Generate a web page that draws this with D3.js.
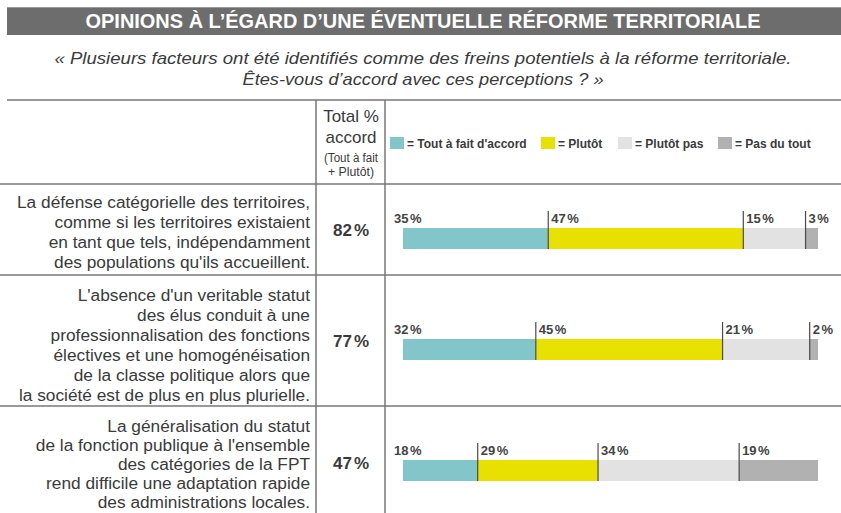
<!DOCTYPE html>
<html>
<head>
<meta charset="utf-8">
<script src="https://cdn.jsdelivr.net/npm/d3@7"></script>
<style>
  html, body { margin: 0; padding: 0; background: #fff; }
  svg { display: block; font-family: "Liberation Sans", Arial, sans-serif; }
</style>
</head>
<body>
<svg id="chart" width="841" height="513"></svg>
<script>
// ---- data ----
const title = "OPINIONS À L’ÉGARD D’UNE ÉVENTUELLE RÉFORME TERRITORIALE";
const subtitle = [
  "« Plusieurs facteurs ont été identifiés comme des freins potentiels à la réforme territoriale.",
  "Êtes-vous d’accord avec ces perceptions ? »"
];
const statements = [
  ["La défense catégorielle des territoires,", "comme si les territoires existaient", "en tant que tels, indépendamment", "des populations qu'ils accueillent."],
  ["L'absence d'un veritable statut", "des élus conduit à une", "professionnalisation des fonctions", "électives et une homogénéisation", "de la classe politique alors que", "la société est de plus en plus plurielle."],
  ["La généralisation du statut", "de la fonction publique à l'ensemble", "des catégories de la FPT", "rend difficile une adaptation rapide", "des administrations locales."]
];
const totalAccord = [82, 77, 47];
const categories = ["Tout à fait d'accord", "Plutôt", "Plutôt pas", "Pas du tout"];
const toutAFait = [35, 32, 18];
const plutot = [47, 45, 29];
const plutotPas = [15, 21, 34];
const pasDuTout = [3, 2, 19];
const colors = ["#82c6c9", "#e8e100", "#e2e2e2", "#b1b1b1"];

// ---- layout ----
const svg = d3.select("#chart");
const lineColor = "#777";
const textColor = "#3a3a3a";
const rowTop = [184, 275, 406];
const rowBottom = [275, 406, 520];
const textFirstBaseline = [208, 301, 432];
const textLineHeight = [20, 20, 19];
const barTop = [228, 339, 460];
const barH = 21;
const colLeft = 316, colRight = 385;

const x = d3.scaleLinear().domain([0, 100]).range([403, 818]);

const table = statements.map((s, i) => ({
  lines: s, total: totalAccord[i],
  [categories[0]]: toutAFait[i], [categories[1]]: plutot[i],
  [categories[2]]: plutotPas[i], [categories[3]]: pasDuTout[i]
}));
const series = d3.stack().keys(categories)(table);

// title bar
svg.append("rect").attr("x", 7).attr("y", 7).attr("width", 834).attr("height", 28).attr("fill", "#6d6d6d");
svg.append("line").attr("x1", 7).attr("x2", 841).attr("y1", 7.5).attr("y2", 7.5).attr("stroke", "#9a9a9a");
svg.append("text").attr("x", 423).attr("y", 28).attr("text-anchor", "middle")
  .attr("fill", "#fff").attr("font-weight", "bold").attr("font-size", 20)
  .attr("textLength", 675).attr("lengthAdjust", "spacingAndGlyphs").text(title);

// subtitle
const subLen = [737, 361];
subtitle.forEach((t, i) => {
  svg.append("text").attr("x", 423).attr("y", 64 + i * 21).attr("text-anchor", "middle")
    .attr("fill", textColor).attr("font-style", "italic").attr("font-size", 17)
    .attr("textLength", subLen[i]).attr("lengthAdjust", "spacingAndGlyphs").text(t);
});

// grid lines
const grid = svg.append("g").attr("stroke", lineColor).attr("stroke-width", 1.5);
grid.append("line").attr("x1", 7).attr("x2", 841).attr("y1", 100).attr("y2", 100);
rowTop.forEach(y => grid.append("line").attr("x1", 0).attr("x2", 841).attr("y1", y).attr("y2", y));
[colLeft, colRight].forEach(cx => grid.append("line").attr("x1", cx).attr("x2", cx).attr("y1", 100).attr("y2", 513));

// header
const hx = (colLeft + colRight) / 2 + 0.5;
[["Total %", 122, 17], ["accord", 143, 17], ["(Tout à fait", 162, 12], ["+ Plutôt)", 176, 12]].forEach(([t, y, fs]) => {
  svg.append("text").attr("x", hx).attr("y", y).attr("text-anchor", "middle")
    .attr("fill", textColor).attr("font-size", fs)
    .attr("textLength", fs === 12 ? (t.length > 9 ? 54 : 46) : null)
    .attr("lengthAdjust", "spacingAndGlyphs").text(t);
});

// legend
const legendX = [390, 541, 618, 718];
const legend = svg.append("g");
categories.forEach((c, i) => {
  legend.append("rect").attr("x", legendX[i]).attr("y", 137).attr("width", 14).attr("height", 12).attr("fill", colors[i]);
  legend.append("text").attr("x", legendX[i] + 17).attr("y", 147.5)
    .attr("font-size", 12).attr("font-weight", "bold").attr("fill", textColor).text("= " + c);
});

// statements + totals
table.forEach((d, i) => {
  const t = svg.append("text").attr("text-anchor", "end").attr("fill", textColor).attr("font-size", 17.3);
  d.lines.forEach((l, j) => t.append("tspan").attr("x", 310).attr("y", textFirstBaseline[i] + j * textLineHeight[i]).text(l));
  const tot = svg.append("text").attr("x", hx).attr("y", (rowTop[i] + rowBottom[i]) / 2 + 6)
    .attr("text-anchor", "middle").attr("font-size", 17).attr("font-weight", "bold").attr("fill", textColor);
  tot.append("tspan").text(d.total);
  tot.append("tspan").attr("dx", 2).text("%");
});

// bars
series.forEach((s, k) => {
  const g = svg.append("g");
  s.forEach((seg, i) => {
    const y0 = barTop[i];
    g.append("rect").attr("x", x(seg[0])).attr("y", y0)
      .attr("width", x(seg[1]) - x(seg[0])).attr("height", barH).attr("fill", colors[k]);
    if (k > 0) {
      g.append("line").attr("x1", x(seg[0])).attr("x2", x(seg[0]))
        .attr("y1", y0 - 17).attr("y2", y0 + barH).attr("stroke", "#4a4a4a").attr("stroke-width", 1.2);
    }
    const lab = g.append("text").attr("x", k === 0 ? x(seg[0]) - 9 : x(seg[0]) + 3).attr("y", y0 - 5)
      .attr("font-size", 13).attr("font-weight", "bold").attr("fill", "#444");
    lab.append("tspan").text(seg[1] - seg[0]);
    lab.append("tspan").attr("dx", 1.5).text("%");
  });
});
</script>
</body>
</html>
